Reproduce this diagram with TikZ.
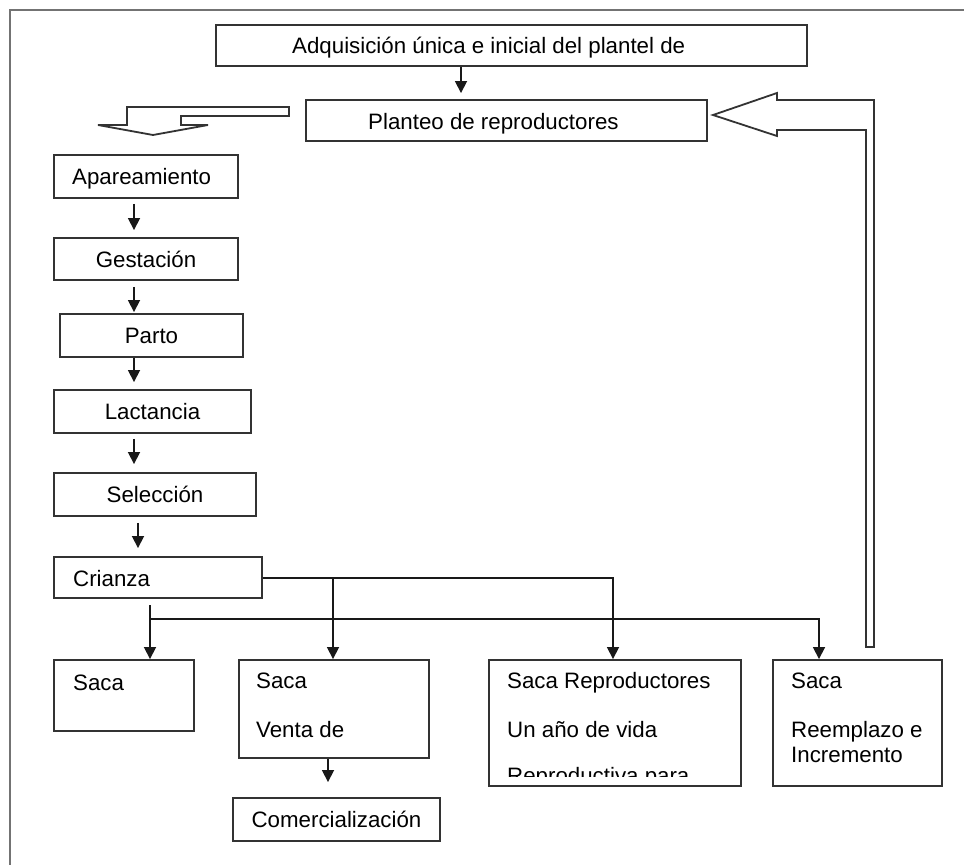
\documentclass[tikz,border=0pt]{standalone}
\usepackage{fontspec}
\setmainfont{Liberation Sans}
\usetikzlibrary{arrows.meta}
\begin{document}
\begin{tikzpicture}[x=1pt,y=-1pt,
  txt/.style={font=\fontsize{22.3pt}{26pt}\selectfont},
  box/.style={txt, draw=black!80, line width=1.9pt, rectangle, inner sep=0pt, text height=16pt, text depth=0pt},
  lbl/.style={txt, anchor=base west, inner sep=0pt},
  arr/.style={draw=black!90, line width=1.7pt, -{Triangle[length=12pt,width=12pt]}},
  blockarrow/.style={draw=black!80, line width=1.8pt, fill=white, line join=miter},
  frame/.style={draw=black!55, line width=2.8pt}]
\useasboundingbox (0,0) rectangle (964,865);
\draw[frame] (964,10) -- (10,10) -- (10,865);

% top boxes
\node[box, minimum width=591pt, minimum height=41pt] (adq) at (511.5,45.5) {};
\node[lbl] (adqt) at (292,53) {Adquisición única e inicial del plantel de};
\node[box, minimum width=401pt, minimum height=41pt] (plan) at (506.5,120.5) {};
\node[lbl] (plant) at (368,129) {Planteo de reproductores};

% left column
\node[box, minimum width=184pt, minimum height=43pt] (apa) at (146,176.5) {};
\node[lbl] (apat) at (72,184) {Apareamiento};
\node[box, minimum width=184pt, minimum height=42pt] (ges) at (146,259) {Gestación};
\node[box, minimum width=183pt, minimum height=43pt] (par) at (151.5,335.5) {Parto};
\node[box, minimum width=197pt, minimum height=43pt] (lac) at (152.5,411.5) {Lactancia};
\node[box, minimum width=202pt, minimum height=43pt] (sel) at (155,494.5) {Selección};
\node[box, minimum width=208pt, minimum height=41pt] (cri) at (158,577.5) {};
\node[lbl] (crit) at (73,586) {Crianza};

% bottom row
\node[box, minimum width=140pt, minimum height=71pt] (s1) at (124,695.5) {};
\node[lbl] (s1a) at (73,690) {Saca};
\node[box, minimum width=190pt, minimum height=98pt] (s2) at (334,709) {};
\node[lbl] (s2a) at (256,688) {Saca};
\node[lbl] (s2b) at (256,737) {Venta de};
\node[box, minimum width=252pt, minimum height=126pt] (s3) at (615,723) {};
\node[lbl] (s3a) at (507,688) {Saca Reproductores};
\node[lbl] (s3b) at (507,737) {Un año de vida};
\begin{scope}
  \clip (s3.north west) rectangle ([yshift=10pt]s3.south east);
  \node[lbl] (s3c) at (507,783) {Reproductiva para};
\end{scope}
\node[box, minimum width=169pt, minimum height=126pt] (s4) at (857.5,723) {};
\node[lbl] (s4a) at (791,688) {Saca};
\node[lbl] (s4b) at (791,737) {Reemplazo e};
\node[lbl] (s4c) at (791,762) {Incremento};
\node[box, minimum width=207pt, minimum height=43pt] (com) at (336.5,819.5) {Comercialización};

% block arrows
\draw[blockarrow] (289,107) -- (127,107) -- (127,125) -- (98,125) -- (153,135) -- (208,125) -- (181,125) -- (181,116) -- (289,116) -- cycle;
\draw[blockarrow] (866,647) -- (866,130) -- (777,130) -- (777,136) -- (713,115) -- (777,93) -- (777,100) -- (874,100) -- (874,647) -- cycle;

% connectors
\coordinate (c0) at (461,0);
\draw[arr, shorten >=6pt] (adq.south -| c0) -- (plan.north -| c0);
\coordinate (c1) at (134,0);
\draw[arr, shorten <=5pt, shorten >=7pt] (apa.south -| c1) -- (ges.north -| c1);
\draw[arr, shorten <=6pt, shorten >=1pt] (ges.south -| c1) -- (par.north -| c1);
\draw[arr, shorten >=7pt] (par.south -| c1) -- (lac.north -| c1);
\draw[arr, shorten <=5pt, shorten >=8pt] (lac.south -| c1) -- (sel.north -| c1);
\coordinate (c5) at (138,0);
\draw[arr, shorten <=6pt, shorten >=8pt] (sel.south -| c5) -- (cri.north -| c5);

\coordinate (ce) at ([yshift=-0.5pt]cri.east);
\coordinate (c4) at (613,0);
\draw[arr] (ce) -| (s3.north -| c4);
\coordinate (c2) at (333,0);
\draw[arr] (ce -| c2) -- (s2.north -| c2);
\coordinate (b0) at (150,605);
\coordinate (b4) at (819,619);
\draw[arr] (b0) -- (s1.north -| b0);
\draw[arr] (b0 |- b4) -- (b4) -- (s4.north -| b4);
\coordinate (c3) at (328,0);
\draw[arr, shorten >=15pt] (s2.south -| c3) -- (com.north -| c3);
\end{tikzpicture}
\end{document}
